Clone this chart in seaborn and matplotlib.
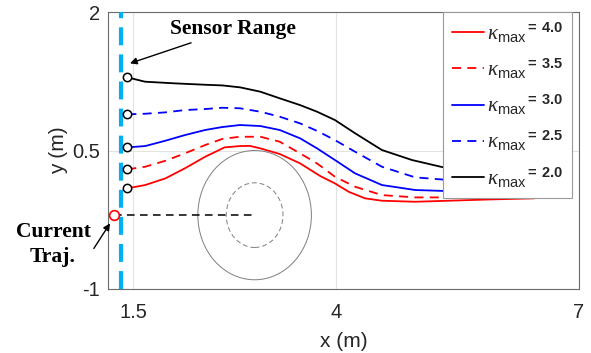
import numpy as np
import pandas as pd
import matplotlib
matplotlib.use("Agg")
import matplotlib.pyplot as plt
from matplotlib.patches import Circle
import seaborn as sns

# ---------------- data ----------------
kappa_values = ["4.0", "3.5", "3.0", "2.5", "2.0"]
series_colors = ["#ff0000", "#ff0000", "#0000ff", "#0000ff", "#000000"]
series_dashed = [False, True, False, True, False]

x_k40 = [1.43, 1.65, 1.90, 2.14, 2.39, 2.63, 2.82, 2.94, 3.07, 3.31, 3.56, 3.81, 3.99, 4.16, 4.36, 4.57, 4.98, 5.39, 5.90, 6.45]
y_k40 = [0.09, 0.126, 0.198, 0.307, 0.432, 0.534, 0.548, 0.55, 0.523, 0.462, 0.361, 0.223, 0.144, 0.053, -0.018, -0.044, -0.055, -0.044, -0.03, -0.018]

x_k35 = [1.43, 1.65, 1.90, 2.14, 2.39, 2.60, 2.82, 3.07, 3.31, 3.56, 3.77, 3.99, 4.24, 4.57, 4.98, 5.40, 6.00, 6.45]
y_k35 = [0.296, 0.324, 0.389, 0.469, 0.559, 0.625, 0.649, 0.649, 0.595, 0.469, 0.36, 0.216, 0.107, 0.017, -0.008, -0.008, -0.008, -0.005]

x_k30 = [1.43, 1.65, 1.90, 2.14, 2.39, 2.60, 2.82, 3.07, 3.31, 3.56, 3.77, 3.99, 4.24, 4.57, 4.98, 5.40, 6.00, 6.45]
y_k30 = [0.534, 0.548, 0.606, 0.667, 0.722, 0.754, 0.776, 0.765, 0.722, 0.632, 0.523, 0.397, 0.252, 0.126, 0.072, 0.06, 0.04, 0.03]

x_k25 = [1.43, 1.65, 1.90, 2.14, 2.39, 2.60, 2.82, 3.07, 3.31, 3.56, 3.77, 3.99, 4.24, 4.57, 4.98, 5.40, 6.00, 6.45]
y_k25 = [0.892, 0.898, 0.913, 0.938, 0.949, 0.963, 0.957, 0.92, 0.866, 0.794, 0.712, 0.613, 0.486, 0.324, 0.209, 0.18, 0.15, 0.13]

x_k20 = [1.43, 1.65, 2.02, 2.39, 2.60, 2.82, 3.07, 3.31, 3.56, 3.77, 3.99, 4.24, 4.57, 4.94, 5.33, 6.00, 6.45]
y_k20 = [1.292, 1.245, 1.227, 1.212, 1.205, 1.184, 1.137, 1.065, 0.992, 0.92, 0.83, 0.686, 0.505, 0.397, 0.317, 0.22, 0.17]

series_x = [x_k40, x_k35, x_k30, x_k25, x_k20]
series_y = [y_k40, y_k35, y_k30, y_k25, y_k20]

current_x = [1.26, 3.0]
current_y = [-0.2, -0.2]

sensor_x = [1.35, 1.35]
sensor_y = [-1.0, 2.0]

obstacle_center = [3.0, -0.2]
obstacle_radii = [0.7, 0.35]

x_ticks = [1.5, 4, 7]
y_ticks = [-1, 0.5, 2]
x_tick_labels = ["1.5", "4", "7"]
y_tick_labels = ["-1", "0.5", "2"]

# ---------------- style ----------------
sns.set_theme(style="white")
plt.rcParams["font.family"] = ["Liberation Sans", "DejaVu Sans"]
plt.rcParams["mathtext.fontset"] = "custom"
plt.rcParams["mathtext.rm"] = "Liberation Sans"
plt.rcParams["mathtext.it"] = "Liberation Serif:italic"
plt.rcParams["mathtext.bf"] = "Liberation Sans:bold"

fig = plt.figure(figsize=(5.91, 3.53), dpi=100)
ax = fig.add_axes([108 / 591, 1 - 289 / 353, (579 - 108) / 591, (289 - 12) / 353])

# grid
ax.set_axisbelow(True)
ax.grid(True, color="#e3e3e3", linewidth=0.8)

# obstacle
ax.add_patch(Circle(tuple(obstacle_center), obstacle_radii[0], fill=False,
                    edgecolor="#7f7f7f", linewidth=0.7, zorder=2))
ax.add_patch(Circle(tuple(obstacle_center), obstacle_radii[1], fill=False,
                    edgecolor="#7f7f7f", linewidth=0.7, linestyle=(0, (5, 3)), zorder=2))

# sensor range line
sns.lineplot(x=sensor_x, y=sensor_y, ax=ax, color="#00b0f0", linewidth=3.0,
             linestyle=(0, (4.3, 2.2)), estimator=None, sort=False, zorder=3)

# current trajectory
sns.lineplot(x=current_x, y=current_y, ax=ax, color="black", linewidth=1.1,
             linestyle=(0, (5, 3.5)), estimator=None, sort=False, zorder=3)
ax.plot(current_x[:1], current_y[:1], "o", markersize=7, markerfacecolor="white",
        markeredgecolor="#ff0000", markeredgewidth=1.2, zorder=6, clip_on=False)

handles = []
labels = []
for xs, ys, col, dashed, kv in zip(series_x, series_y, series_colors, series_dashed, kappa_values):
    ls = (0, (5, 3.5)) if dashed else "-"
    sns.lineplot(x=xs, y=ys, ax=ax, color=col, linewidth=1.3, linestyle=ls,
                 estimator=None, sort=False, zorder=4)
    handles.append(ax.lines[-1])
    labels.append(r"$\kappa_{\mathrm{max}}{}^{\mathbf{=\ " + kv + r"}}$")
    ax.plot(xs[:1], ys[:1], "o", markersize=6, markerfacecolor="white",
            markeredgecolor="black", markeredgewidth=1.1, zorder=6)

ax.set_xlim(1.192, 7.0)
ax.set_ylim(-1, 2)
ax.set_xticks(x_ticks)
ax.set_xticklabels(x_tick_labels)
ax.set_yticks(y_ticks)
ax.set_yticklabels(y_tick_labels)
ax.tick_params(axis="both", direction="in", length=4, width=0.6, color="#4d4d4d",
               labelsize=14.5, labelcolor="#262626")
ax.tick_params(axis="x", pad=10)
ax.tick_params(axis="y", pad=6)
for s in ax.spines.values():
    s.set_color("#6b6b6b")
    s.set_linewidth(0.8)

ax.set_xlabel("x (m)", fontsize=15, color="#262626", labelpad=7)
ax.set_ylabel("y (m)", fontsize=15, color="#262626", labelpad=3)

leg = ax.legend(handles, labels, loc="upper right", bbox_to_anchor=(0.985, 1.0),
                borderaxespad=0.0, fontsize=15, handlelength=1.55, handletextpad=0.15,
                labelspacing=0.58, borderpad=0.4, frameon=True, fancybox=False,
                framealpha=1.0, edgecolor="#9a9a9a")
leg.get_frame().set_linewidth(0.8)
leg.set_zorder(10)

# annotations
ax.annotate("Sensor Range", xy=(1.463, 1.444), xytext=(1.96, 1.82),
            fontsize=15.5, fontweight="bold", family="Liberation Serif",
            va="center", ha="left", color="black",
            arrowprops=dict(arrowstyle="-|>", color="black", lw=1.0,
                            shrinkA=2, shrinkB=0, mutation_scale=10),
            zorder=8)
ax.annotate("Current\nTraj.", xy=(1.217, -0.289), xytext=(0.515, -0.52),
            fontsize=15.5, fontweight="bold", family="Liberation Serif",
            va="center", ha="center", color="black", linespacing=1.3,
            annotation_clip=False,
            arrowprops=dict(arrowstyle="-|>", color="black", lw=1.0,
                            shrinkA=0, shrinkB=0, mutation_scale=10,
                            relpos=(1.0, 0.3)),
            zorder=8)

fig.savefig("out.png", dpi=100)
